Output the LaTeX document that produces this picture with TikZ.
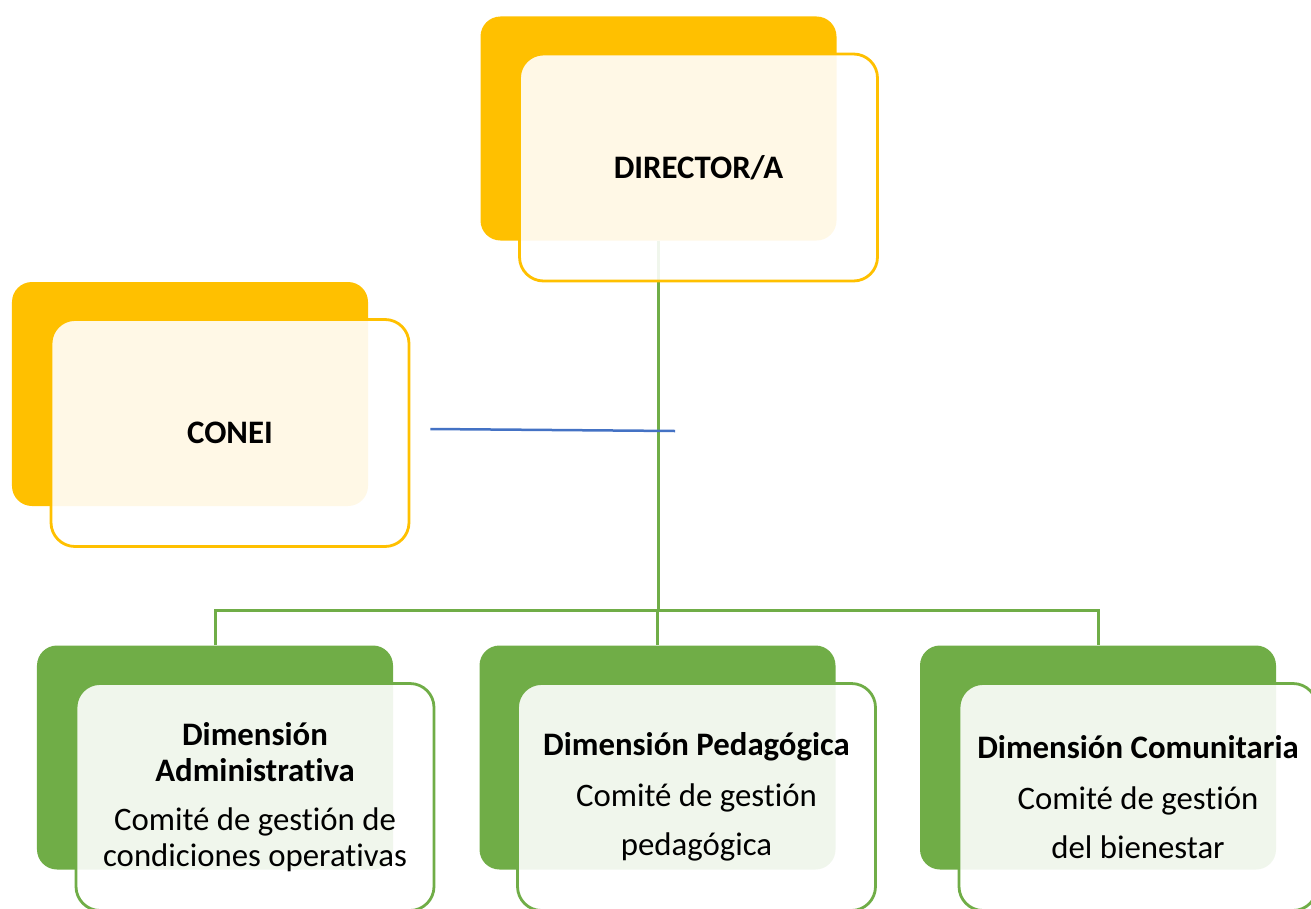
\documentclass[tikz,border=0pt]{standalone}
\usepackage{fontspec}
\setmainfont{Carlito}[Ligatures=NoCommon]
\definecolor{ambar}{HTML}{FFC000}
\definecolor{verde}{HTML}{70AD47}
\definecolor{azul}{HTML}{4472C4}
\tikzset{
  fondo/.style={fill=#1, rounded corners=20bp, inner sep=0pt,
    minimum width=356bp, minimum height=224bp},
  frente/.style={draw=#1, line width=2.8bp, fill=white, fill opacity=0.9,
    text opacity=1, rounded corners=24bp, inner sep=0pt, align=center,
    minimum width=358bp, minimum height=227bp,
    font=\fontsize{32.8bp}{36bp}\selectfont},
  rama/.style={draw=verde, line width=3bp},
}
\begin{document}
\begin{tikzpicture}[x=1bp, y=-1bp]
        \useasboundingbox (0,0) rectangle (1311,908);
        \begin{scope}
            \node [fondo=ambar] (dirB) at (658.5, 128.5) {};
            \node [fondo=ambar] (coneiB) at (190, 394) {};
            \node [fondo=verde] (admB) at (215, 757.5) {};
            \node [fondo=verde] (pedB) at (657.5, 757.5) {};
            \node [fondo=verde] (comB) at (1098, 757.5) {};
        \end{scope}
        \coordinate (bus) at (658.5, 610);
        \path [rama] (dirB.south) -- (bus);
        \path [rama] (admB.north) |- (bus) -| (comB.north);
        \path [rama] (pedB.north |- bus) -- (pedB.north);
        \begin{scope}
            \node [frente=ambar] (dir) at (698.5, 167.5) {\textbf{DIRECTOR/A}};
            \node [frente=ambar] (conei) at (230, 433) {\textbf{CONEI}};
            \node [frente=verde] (adm) at (255, 797)
                {\textbf{Dimensión}\\\textbf{Administrativa}\\[13bp]Comité de gestión de\\condiciones operativas};
            \node [frente=verde] (ped) at (696.5, 797)
                {\textbf{Dimensión Pedagógica}\\[15bp]Comité de gestión\\[13bp]pedagógica};
            \node [frente=verde] (com) at (1138, 797)
                {\textbf{Dimensión Comunitaria}\\[15bp]Comité de gestión\\[13bp]del bienestar};
        \end{scope}
        \coordinate (enlace) at (675, 431);
        \path [draw=azul, line width=2.5bp] ([xshift=20bp, yshift=4bp]conei.east) -- (enlace);
    \end{tikzpicture}
\end{document}
